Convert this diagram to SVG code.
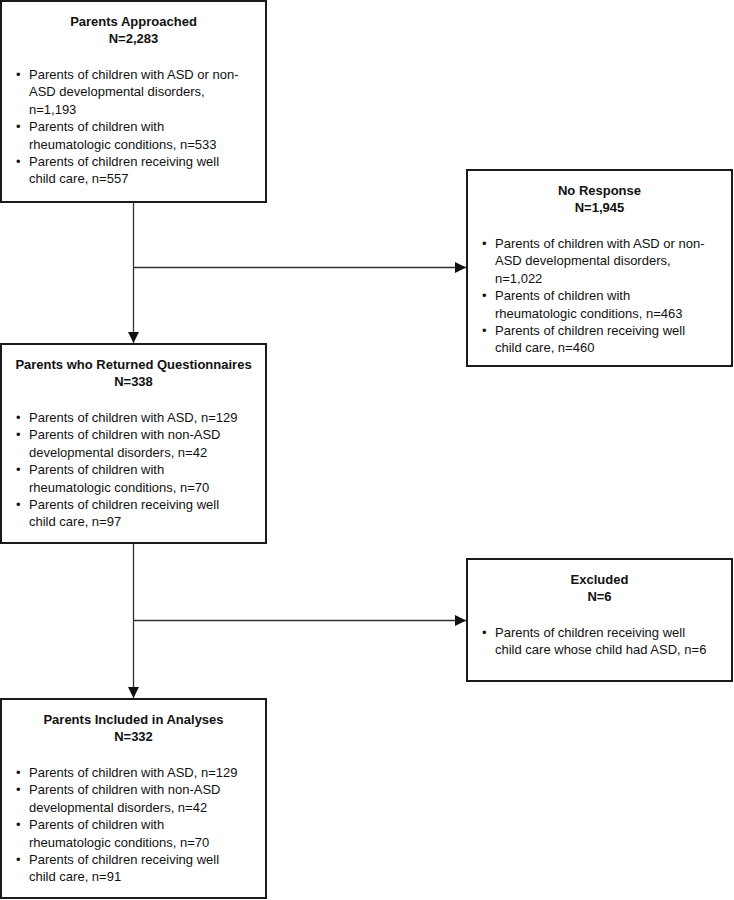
<svg xmlns="http://www.w3.org/2000/svg" width="734" height="900" viewBox="0 0 734 900">
<defs>
<style>
.box{fill:#fff;stroke:#1a1a1a;stroke-width:2}
.t{font-family:"Liberation Sans",Arial,sans-serif;font-size:13px;fill:#111}
.h{font-weight:bold;text-anchor:middle}
.c{stroke:#333;stroke-width:1.3;fill:none}
</style>
<marker id="ah" markerWidth="11" markerHeight="11" viewBox="0 0 11 11" refX="11" refY="5.5" orient="auto" markerUnits="userSpaceOnUse">
<path d="M0,0 L11,5.5 L0,11 Z" fill="#111"/>
</marker>
</defs>
<rect width="734" height="900" fill="#fff"/>
<g id="connectors">
<line class="c" x1="133.5" y1="202" x2="133.5" y2="343" marker-end="url(#ah)"/>
<line class="c" x1="133.5" y1="267.5" x2="466" y2="267.5" marker-end="url(#ah)"/>
<line class="c" x1="133.5" y1="543" x2="133.5" y2="698" marker-end="url(#ah)"/>
<line class="c" x1="133.5" y1="620.5" x2="466" y2="620.5" marker-end="url(#ah)"/>
</g>
<g id="approached">
<rect class="box" x="1" y="1" width="265" height="201"/>
<text class="t h" x="133.5" y="26">Parents Approached</text>
<text class="t h" x="133.5" y="43">N=2,283</text>
<g class="t">
<text x="16" y="79">•</text><text x="29" y="79">Parents of children with ASD or non-</text>
<text x="29" y="96.4">ASD developmental disorders,</text>
<text x="29" y="113.8">n=1,193</text>
<text x="16" y="131.2">•</text><text x="29" y="131.2">Parents of children with</text>
<text x="29" y="148.6">rheumatologic conditions, n=533</text>
<text x="16" y="166">•</text><text x="29" y="166">Parents of children receiving well</text>
<text x="29" y="183.4">child care, n=557</text>
</g>
</g>
<g id="noresponse">
<rect class="box" x="467" y="170" width="265" height="196"/>
<text class="t h" x="599.5" y="195">No Response</text>
<text class="t h" x="599.5" y="212">N=1,945</text>
<g class="t">
<text x="482" y="248">•</text><text x="495" y="248">Parents of children with ASD or non-</text>
<text x="495" y="265.4">ASD developmental disorders,</text>
<text x="495" y="282.8">n=1,022</text>
<text x="482" y="300.2">•</text><text x="495" y="300.2">Parents of children with</text>
<text x="495" y="317.6">rheumatologic conditions, n=463</text>
<text x="482" y="335">•</text><text x="495" y="335">Parents of children receiving well</text>
<text x="495" y="352.4">child care, n=460</text>
</g>
</g>
<g id="returned">
<rect class="box" x="1" y="344" width="265" height="199"/>
<text class="t h" x="133.5" y="369">Parents who Returned Questionnaires</text>
<text class="t h" x="133.5" y="386">N=338</text>
<g class="t">
<text x="16" y="422">•</text><text x="29" y="422">Parents of children with ASD, n=129</text>
<text x="16" y="439.4">•</text><text x="29" y="439.4">Parents of children with non-ASD</text>
<text x="29" y="456.8">developmental disorders, n=42</text>
<text x="16" y="474.2">•</text><text x="29" y="474.2">Parents of children with</text>
<text x="29" y="491.6">rheumatologic conditions, n=70</text>
<text x="16" y="509">•</text><text x="29" y="509">Parents of children receiving well</text>
<text x="29" y="526.4">child care, n=97</text>
</g>
</g>
<g id="excluded">
<rect class="box" x="467" y="559" width="265" height="122"/>
<text class="t h" x="599.5" y="584">Excluded</text>
<text class="t h" x="599.5" y="601">N=6</text>
<g class="t">
<text x="482" y="637">•</text><text x="495" y="637">Parents of children receiving well</text>
<text x="495" y="654.4">child care whose child had ASD, n=6</text>
</g>
</g>
<g id="included">
<rect class="box" x="1" y="699" width="265" height="199"/>
<text class="t h" x="133.5" y="724">Parents Included in Analyses</text>
<text class="t h" x="133.5" y="741">N=332</text>
<g class="t">
<text x="16" y="777">•</text><text x="29" y="777">Parents of children with ASD, n=129</text>
<text x="16" y="794.4">•</text><text x="29" y="794.4">Parents of children with non-ASD</text>
<text x="29" y="811.8">developmental disorders, n=42</text>
<text x="16" y="829.2">•</text><text x="29" y="829.2">Parents of children with</text>
<text x="29" y="846.6">rheumatologic conditions, n=70</text>
<text x="16" y="864">•</text><text x="29" y="864">Parents of children receiving well</text>
<text x="29" y="881.4">child care, n=91</text>
</g>
</g>
</svg>
